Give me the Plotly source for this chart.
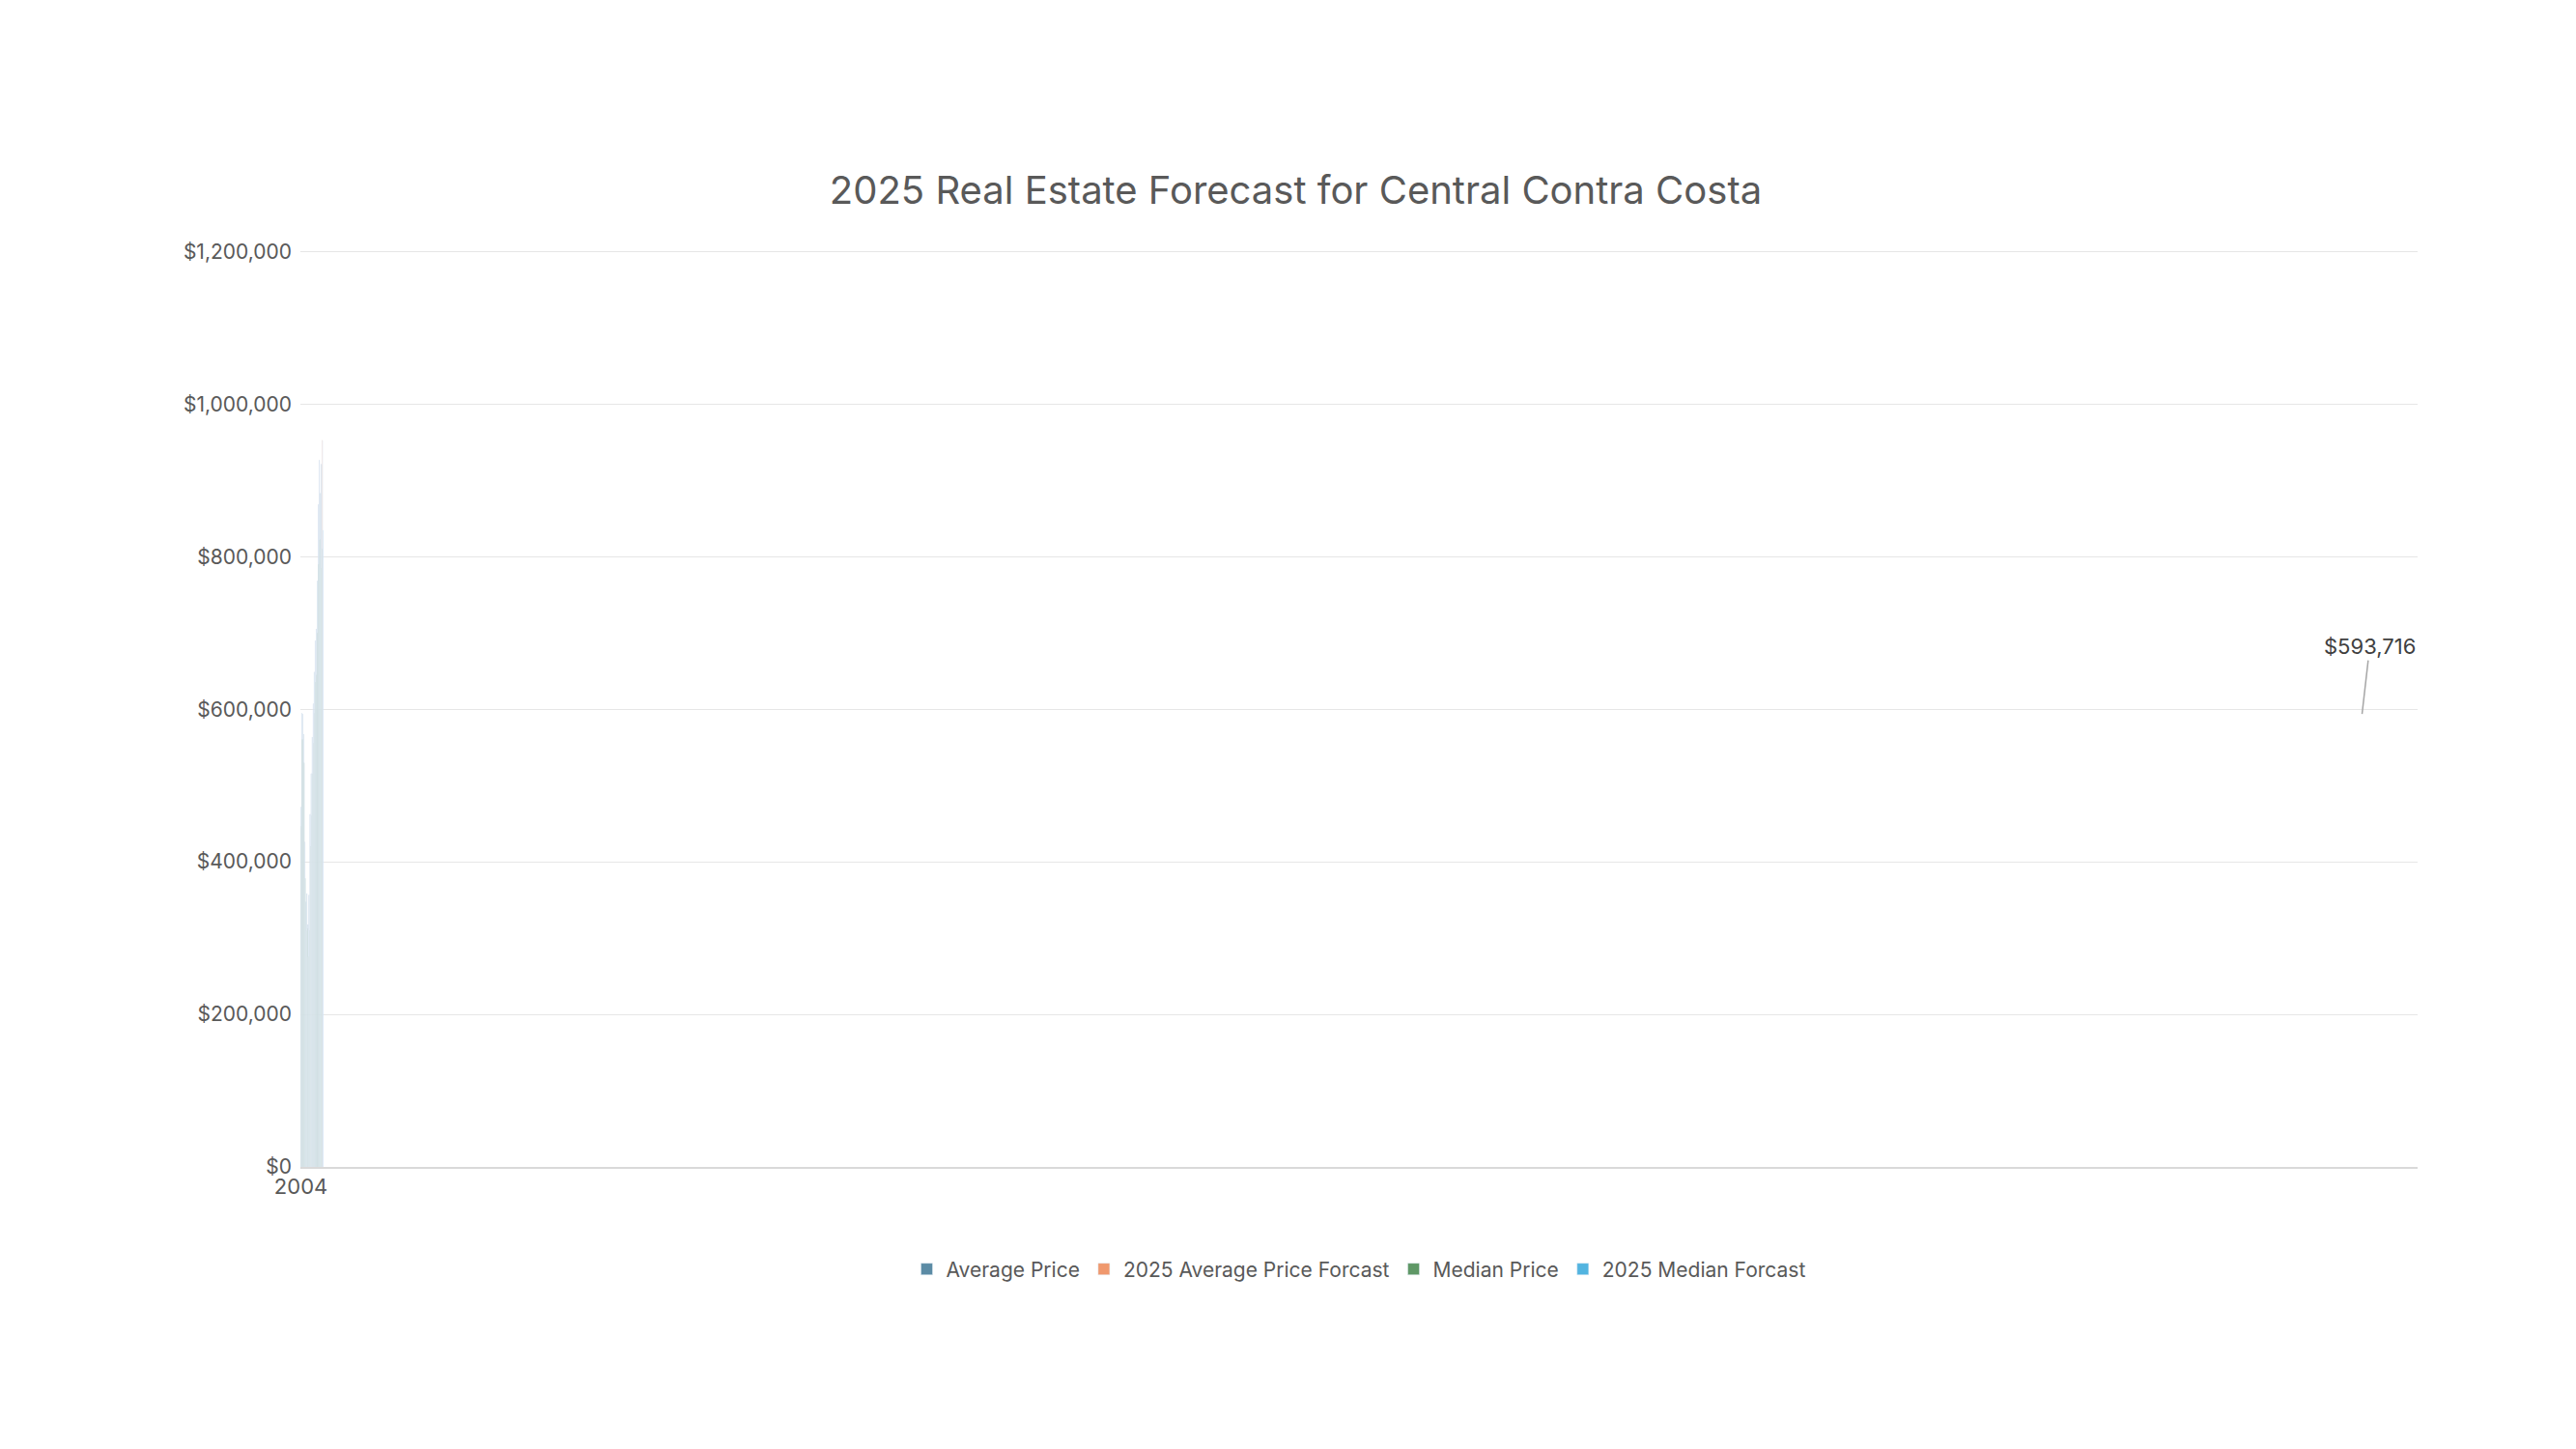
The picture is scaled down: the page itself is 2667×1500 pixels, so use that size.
import plotly.graph_objects as go

years = [str(y) for y in range(2004, 2025)]
forecast_cat = "2025<br>Forecast"
avg_price = [471572, 594837, 593716, 567285, 425702, 347399, 358490, 317731, 356424,
             462474, 515568, 563546, 607120, 648788, 689958, 705188, 768311, 868353,
             926723, 882994, 921126]
median_price = [446000, 560000, 560000, 530000, 378000, 310000, 312000, 275000, 310000,
                420000, 460000, 515000, 555000, 595000, 635000, 645000, 700000, 790000,
                822000, 785000, 810000]
avg_forecast = 952484
median_forecast = 834643

font = "Inter, Noto Sans, sans-serif"
grey = "#595959"

avg_text = ["" if y == "2006" else f"${v:,.0f}" for y, v in zip(years, avg_price)]

fig = go.Figure()
fig.add_trace(go.Bar(x=years, y=avg_price, name="Average Price", marker_color="#5b8ba5",
                     offsetgroup="a", text=avg_text, textposition="outside",
                     textfont=dict(size=22, color="#404040"), cliponaxis=False))
fig.add_trace(go.Bar(x=[forecast_cat], y=[avg_forecast], name="2025 Average Price Forcast",
                     marker_color="#f0986d", offsetgroup="a",
                     text=[f"<b>${avg_forecast:,.0f}</b>"], textposition="outside",
                     textfont=dict(size=22, color="#262626"), cliponaxis=False))
fig.add_trace(go.Bar(x=years, y=median_price, name="Median Price", marker_color="#5f9866",
                     offsetgroup="b"))
fig.add_trace(go.Bar(x=[forecast_cat], y=[median_forecast], name="2025 Median Forcast",
                     marker_color="#52b4e0", offsetgroup="b",
                     text=[f"<b>${median_forecast:,.0f}</b>"], textposition="outside",
                     textfont=dict(size=22, color="#262626"), cliponaxis=False))

fig.add_annotation(x="2006", y=avg_price[2], text=f"${avg_price[2]:,.0f}", xshift=-18,
                   showarrow=True, arrowhead=0, arrowcolor="#a6a6a6", arrowwidth=1.5,
                   ax=8, ay=-70, font=dict(size=22, color="#404040", family=font))

fig.update_layout(
    width=2667, height=1500, paper_bgcolor="white", plot_bgcolor="white",
    font=dict(family=font, color=grey),
    title=dict(text="2025 Real Estate Forecast for Central Contra Costa", x=0.5, xanchor="center",
               y=0.874, yanchor="middle", font=dict(size=40, color=grey)),
    margin=dict(l=303, r=172, t=250, b=300),
    barmode="group", bargap=0.36, bargroupgap=0.3,
    legend=dict(orientation="h", x=0.5, xanchor="center", y=-0.09, yanchor="top",
                font=dict(size=21, color=grey), traceorder="normal"),
    showlegend=True,
)
fig.update_yaxes(range=[0, 1203000], dtick=200000, tickformat="$,.0f", gridcolor="#e6e6e6",
                 zeroline=False, showline=False, ticks="", tickfont=dict(size=21, color=grey),
                 ticklabelstandoff=8)
fig.update_xaxes(type="category", showline=True, linecolor="#d9d9d9", linewidth=1.5, ticks="",
                 tickfont=dict(size=22, color=grey), categoryorder="array",
                 categoryarray=years + [forecast_cat])

fig.write_html("out.html")
